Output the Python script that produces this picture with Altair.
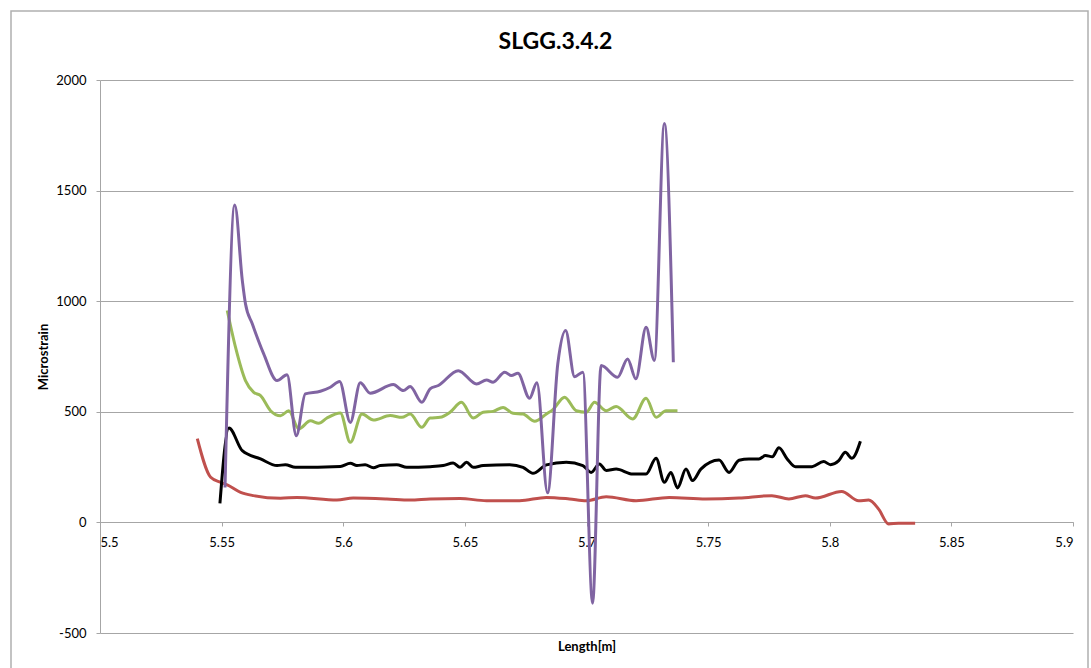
import altair as alt
import pandas as pd

# ---- data ----
red_x = [5.5400, 5.5455, 5.5496, 5.5523, 5.5578, 5.5631, 5.5742, 5.5810, 5.5974, 5.6041,
         5.6179, 5.6275, 5.6357, 5.6480, 5.6589, 5.6725, 5.6835, 5.6930, 5.6999, 5.7081,
         5.7204, 5.7340, 5.7491, 5.7627, 5.7762, 5.7832, 5.7900, 5.7941, 5.8049, 5.8119,
         5.8160, 5.8201, 5.8242, 5.8283, 5.8351]
red_y = [379, 204, 181, 170, 136, 121, 109, 113, 101, 110,
         106, 101, 106, 108, 98, 98, 113, 106, 98, 116,
         98, 113, 106, 110, 121, 106, 121, 110, 140, 98,
         101, 60, -7, -4, -4]

black_x = [5.5493, 5.5530, 5.5585, 5.5660, 5.5728, 5.5762, 5.5803, 5.5988, 5.6029, 5.6056,
           5.6090, 5.6124, 5.6152, 5.6220, 5.6261, 5.6357, 5.6411, 5.6452, 5.6480, 5.6507,
           5.6534, 5.6575, 5.6684, 5.6739, 5.6780, 5.6835, 5.6917, 5.6985, 5.7019, 5.7053,
           5.7081, 5.7122, 5.7190, 5.7245, 5.7286, 5.7320, 5.7347, 5.7374, 5.7409, 5.7436,
           5.7470, 5.7545, 5.7586, 5.7627, 5.7668, 5.7709, 5.7736, 5.7764, 5.7791, 5.7825,
           5.7859, 5.7927, 5.7975, 5.8003, 5.8037, 5.8064, 5.8091, 5.8126]
black_y = [86, 427, 324, 287, 257, 261, 249, 253, 267, 257,
           261, 247, 257, 261, 249, 252, 257, 269, 249, 272,
           249, 257, 261, 249, 222, 260, 272, 257, 226, 264,
           235, 241, 219, 219, 290, 181, 226, 156, 241, 189,
           241, 282, 226, 281, 287, 287, 302, 297, 337, 287,
           252, 252, 275, 261, 279, 317, 290, 367]

green_x = [5.5523, 5.5557, 5.5598, 5.5632, 5.5660, 5.5701, 5.5742, 5.5776, 5.5817, 5.5865,
           5.5899, 5.5933, 5.5988, 5.6029, 5.6077, 5.6124, 5.6193, 5.6241, 5.6275, 5.6323,
           5.6357, 5.6398, 5.6439, 5.6486, 5.6534, 5.6575, 5.6616, 5.6657, 5.6698, 5.6739,
           5.6787, 5.6835, 5.6862, 5.6910, 5.6958, 5.6999, 5.7033, 5.7081, 5.7122, 5.7190,
           5.7245, 5.7286, 5.7327, 5.7374]
green_y = [958, 792, 641, 588, 573, 505, 482, 505, 423, 459,
           448, 472, 495, 362, 490, 463, 483, 475, 490, 430,
           472, 475, 498, 543, 472, 498, 502, 520, 493, 490,
           457, 490, 510, 566, 505, 498, 543, 505, 524, 468,
           561, 475, 505, 505]

purple_x = [5.5514, 5.5554, 5.5585, 5.5598, 5.5626, 5.5673, 5.5728, 5.5769, 5.5807, 5.5844,
            5.5906, 5.5947, 5.5985, 5.6029, 5.6070, 5.6111, 5.6206, 5.6247, 5.6275, 5.6323,
            5.6357, 5.6391, 5.6473, 5.6548, 5.6589, 5.6616, 5.6664, 5.6691, 5.6718, 5.6766,
            5.6796, 5.6840, 5.6882, 5.6914, 5.6951, 5.6985, 5.7025, 5.7060, 5.7128, 5.7169,
            5.7203, 5.7245, 5.7279, 5.7320, 5.7357]
purple_y = [158, 1435, 1094, 988, 898, 762, 641, 667, 392, 581,
            593, 611, 637, 452, 631, 584, 623, 596, 614, 543,
            604, 619, 686, 626, 644, 634, 679, 664, 674, 561,
            631, 134, 717, 867, 659, 679, -365, 709, 656, 739,
            649, 882, 732, 1803, 724]

series_names = ["red", "black", "green", "purple"]
series_colors = ["#C0504D", "#000000", "#9BBB59", "#8064A2"]

x_ticks = [5.5, 5.55, 5.6, 5.65, 5.7, 5.75, 5.8, 5.85, 5.9]
y_ticks = [-500, 0, 500, 1000, 1500, 2000]

rows = []
for name, xs, ys in [("red", red_x, red_y), ("black", black_x, black_y),
                     ("green", green_x, green_y), ("purple", purple_x, purple_y)]:
    for i, (a, b) in enumerate(zip(xs, ys)):
        rows.append({"series": name, "x": a, "y": b, "i": i})
df = pd.DataFrame(rows)

FONT = "Lato"
W, H = 973, 553
zero_offset = -round(H * 500 / 2500)  # move x axis up to the y=0 line

axis_style = dict(labelFont=FONT, labelFontSize=13, labelColor="#000000",
                  titleFont=FONT, titleFontSize=13, titleFontWeight="bold",
                  titleColor="#000000", tickSize=4,
                  domainColor="#a6a6a6", tickColor="#a6a6a6")

lines = alt.Chart(df).mark_line(strokeWidth=3, interpolate="monotone").encode(
    x=alt.X("x:Q", scale=alt.Scale(domain=[5.5, 5.9], nice=False, zero=False),
            axis=alt.Axis(values=x_ticks, labelExpr="'' + datum.value", grid=False,
                          offset=zero_offset, title="Length[m]", titlePadding=91,
                          labelPadding=10, **axis_style)),
    y=alt.Y("y:Q", scale=alt.Scale(domain=[-500, 2000], nice=False, zero=False),
            axis=alt.Axis(values=y_ticks, labelExpr="'' + datum.value", grid=True,
                          gridColor="#a6a6a6", title="Microstrain",
                          titlePadding=5, labelPadding=10, **axis_style)),
    color=alt.Color("series:N", scale=alt.Scale(domain=series_names, range=series_colors),
                    legend=None),
    order="i:Q",
    detail="series:N",
)

border = alt.Chart(pd.DataFrame({"k": [0]})).mark_rect(
    fill=None, stroke="#b0b0b0", strokeWidth=1.5
).encode(x=alt.value(-89), y=alt.value(-69), x2=alt.value(988), y2=alt.value(700))

chart = alt.layer(border, lines).properties(
    width=W, height=H,
    background="white",
    title=alt.TitleParams("SLGG.3.4.2", fontSize=23, font=FONT, fontWeight="bold",
                          anchor="middle", dx=-31, offset=-44, color="#000000"),
    autosize=alt.AutoSizeParams(type="none"),
    padding={"left": 100, "top": 80, "right": 18, "bottom": 35},
).configure_view(stroke=None)

chart.save("out.html", embed_options={"renderer": "svg", "actions": False})
